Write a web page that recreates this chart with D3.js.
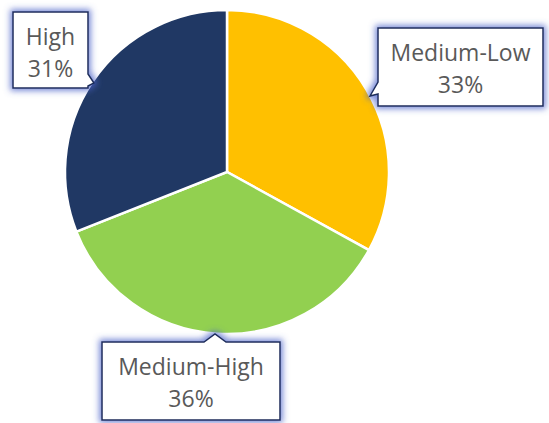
<!DOCTYPE html>
<html>
<head>
<meta charset="utf-8">
<script src="https://cdn.jsdelivr.net/npm/d3@7"></script>
<style>
  body { margin: 0; background: #fff; }
</style>
</head>
<body>
<div id="chart-area"></div>
<script>
// data
var categories = ["Medium-Low", "Medium-High", "High"];
var values = [33, 36, 31];
var colors = ["#FFC000", "#92D050", "#203864"];

var width = 549, height = 423;
var cx = 227, cy = 172, radius = 162;

// callout boxes: [x, y, w, h], notch side, notch pos
var boxes = [
    {x: 378, y: 28, w: 165, h: 78, side: "left", a: 82, b: 94, tip: [370, 96]},
    {x: 102, y: 342, w: 178, h: 78, side: "top", a: 204, b: 226, tip: [215, 334]},
    {x: 13, y: 12, w: 75, h: 76, side: "right", a: 74, b: 86, tip: [94, 83]}
];

var svg = d3.select("#chart-area").append("svg")
    .attr("width", width)
    .attr("height", height);

var defs = svg.append("defs");
var glow = defs.append("filter").attr("id", "glow")
    .attr("x", "-30%").attr("y", "-30%").attr("width", "160%").attr("height", "160%");
glow.append("feMorphology").attr("in", "SourceAlpha").attr("operator", "dilate").attr("radius", 2).attr("result", "dil");
glow.append("feGaussianBlur").attr("in", "dil").attr("stdDeviation", 3).attr("result", "blur");
glow.append("feFlood").attr("flood-color", "#4a62c8").attr("flood-opacity", 0.75);
glow.append("feComposite").attr("in2", "blur").attr("operator", "in").attr("result", "shadow");
var merge = glow.append("feMerge");
merge.append("feMergeNode").attr("in", "shadow");
merge.append("feMergeNode").attr("in", "SourceGraphic");

var pie = d3.pie().sort(null).value(d => d);
var arc = d3.arc().innerRadius(0).outerRadius(radius);

var g = svg.append("g").attr("transform", "translate(" + cx + "," + cy + ")");

g.selectAll("path.slice")
    .data(pie(values))
    .enter().append("path")
    .attr("class", "slice")
    .attr("d", arc)
    .attr("fill", (d, i) => colors[i])
    .attr("stroke", "#fff")
    .attr("stroke-width", 2.5);

function calloutPath(b) {
    var x0 = b.x, y0 = b.y, x1 = b.x + b.w, y1 = b.y + b.h;
    var p = d3.path();
    p.moveTo(x0, y0);
    if (b.side === "top") {
        p.lineTo(b.a, y0); p.lineTo(b.tip[0], b.tip[1]); p.lineTo(b.b, y0);
    }
    p.lineTo(x1, y0);
    if (b.side === "right") {
        p.lineTo(x1, b.a); p.lineTo(b.tip[0], b.tip[1]); p.lineTo(x1, b.b);
    }
    p.lineTo(x1, y1);
    p.lineTo(x0, y1);
    if (b.side === "left") {
        p.lineTo(x0, b.b); p.lineTo(b.tip[0], b.tip[1]); p.lineTo(x0, b.a);
    }
    p.closePath();
    return p.toString();
}

var labels = svg.selectAll("g.label")
    .data(pie(values))
    .enter().append("g")
    .attr("class", "label");

labels.append("path")
    .attr("d", (d, i) => calloutPath(boxes[i]))
    .attr("fill", "#fff")
    .attr("stroke", "#1f2d5a")
    .attr("stroke-width", 1.5)
    .attr("filter", "url(#glow)");

labels.append("text")
    .attr("x", (d, i) => boxes[i].x + boxes[i].w / 2)
    .attr("y", (d, i) => boxes[i].y + 33)
    .attr("text-anchor", "middle")
    .attr("font-family", "'Open Sans', sans-serif")
    .attr("font-size", 23)
    .attr("fill", "#595959")
    .text((d, i) => categories[i]);

labels.append("text")
    .attr("x", (d, i) => boxes[i].x + boxes[i].w / 2)
    .attr("y", (d, i) => boxes[i].y + 65)
    .attr("text-anchor", "middle")
    .attr("font-family", "'Open Sans', sans-serif")
    .attr("font-size", 23)
    .attr("fill", "#595959")
    .text((d, i) => values[i] + "%");
</script>
</body>
</html>
